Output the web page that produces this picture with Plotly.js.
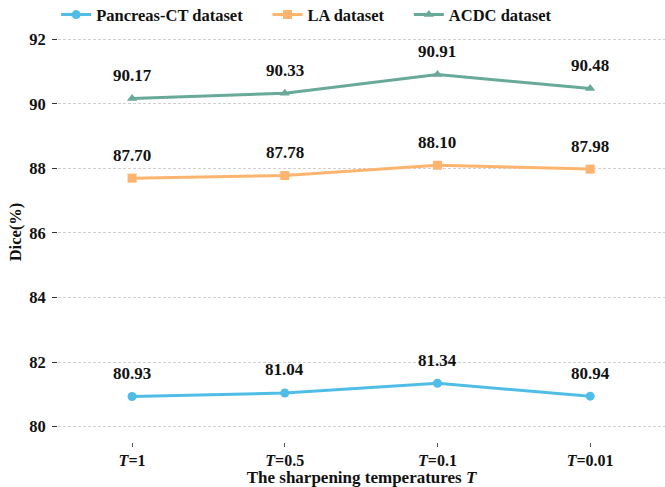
<!DOCTYPE html>
<html><head><meta charset="utf-8">
<script src="https://cdn.plot.ly/plotly-3.0.1.min.js"></script>
<style>html,body{margin:0;padding:0;background:#fff}</style>
</head><body><div id="chart" style="width:665px;height:487px"></div>
<script>
const categories = ["T=1", "T=0.5", "T=0.1", "T=0.01"];
const tickLabels = ["<i>T</i>=1", "<i>T</i>=0.5", "<i>T</i>=0.1", "<i>T</i>=0.01"];
const pancreas = [80.93, 81.04, 81.34, 80.94];
const la = [87.70, 87.78, 88.10, 87.98];
const acdc = [90.17, 90.33, 90.91, 90.48];
const seriesNames = ["Pancreas-CT dataset", "LA dataset", "ACDC dataset"];
const colors = ["#4fbde6", "#fdb46f", "#68a99a"];
const symbols = ["circle", "square", "triangle-up"];
const allSeries = [pancreas, la, acdc];
const xIdx = categories.map((c, i) => i);

const font = "Liberation Serif";
const traces = allSeries.map((s, k) => ({
  x: xIdx, y: s, name: seriesNames[k] + "\u2003\u2009", mode: "lines+markers", type: "scatter",
  line: {color: colors[k], width: 3},
  marker: {color: colors[k], symbol: symbols[k], size: 9}
}));
const annotations = [];
allSeries.forEach(s => s.forEach((v, i) => annotations.push({
  x: xIdx[i], y: v, text: "<b>" + v.toFixed(2) + "</b>", showarrow: false,
  yshift: 23, font: {family: font, size: 17, color: "#111"}
})));
Plotly.newPlot("chart", traces, {
  width: 665, height: 487,
  margin: {l: 58, r: 0, t: 22, b: 45, autoexpand: false},
  paper_bgcolor: "#fff", plot_bgcolor: "#fff",
  showlegend: true,
  legend: {orientation: "h", x: -0.003, xanchor: "left", y: 1.017, yanchor: "middle",
    font: {family: font, size: 16.5, color: "#111", weight: "bold"}, itemwidth: 30},
  xaxis: {range: [-0.485, 3.49], tickvals: xIdx, ticktext: tickLabels,
    showgrid: false, zeroline: false, showline: false,
    ticks: "outside", ticklen: 4, tickcolor: "#555", tickwidth: 1,
    tickfont: {family: font, size: 16, color: "#111", weight: "bold"},
    title: {text: "The sharpening temperatures <i>T</i>", standoff: 1,
      font: {family: font, size: 17, color: "#111", weight: "bold"}}},
  yaxis: {range: [79.52, 92.54], tickvals: [80, 82, 84, 86, 88, 90, 92],
    showgrid: true, gridcolor: "#d0d0d0", griddash: "3px,2px", gridwidth: 1,
    zeroline: false, showline: false,
    ticks: "outside", ticklen: 5, tickcolor: "#333", ticklabelstandoff: 3,
    tickfont: {family: font, size: 16.5, color: "#111", weight: "bold"},
    title: {text: "Dice(%)", standoff: 3,
      font: {family: font, size: 16.5, color: "#111", weight: "bold"}}},
  annotations: annotations
}, {displayModeBar: false, staticPlot: true});
</script></body></html>
